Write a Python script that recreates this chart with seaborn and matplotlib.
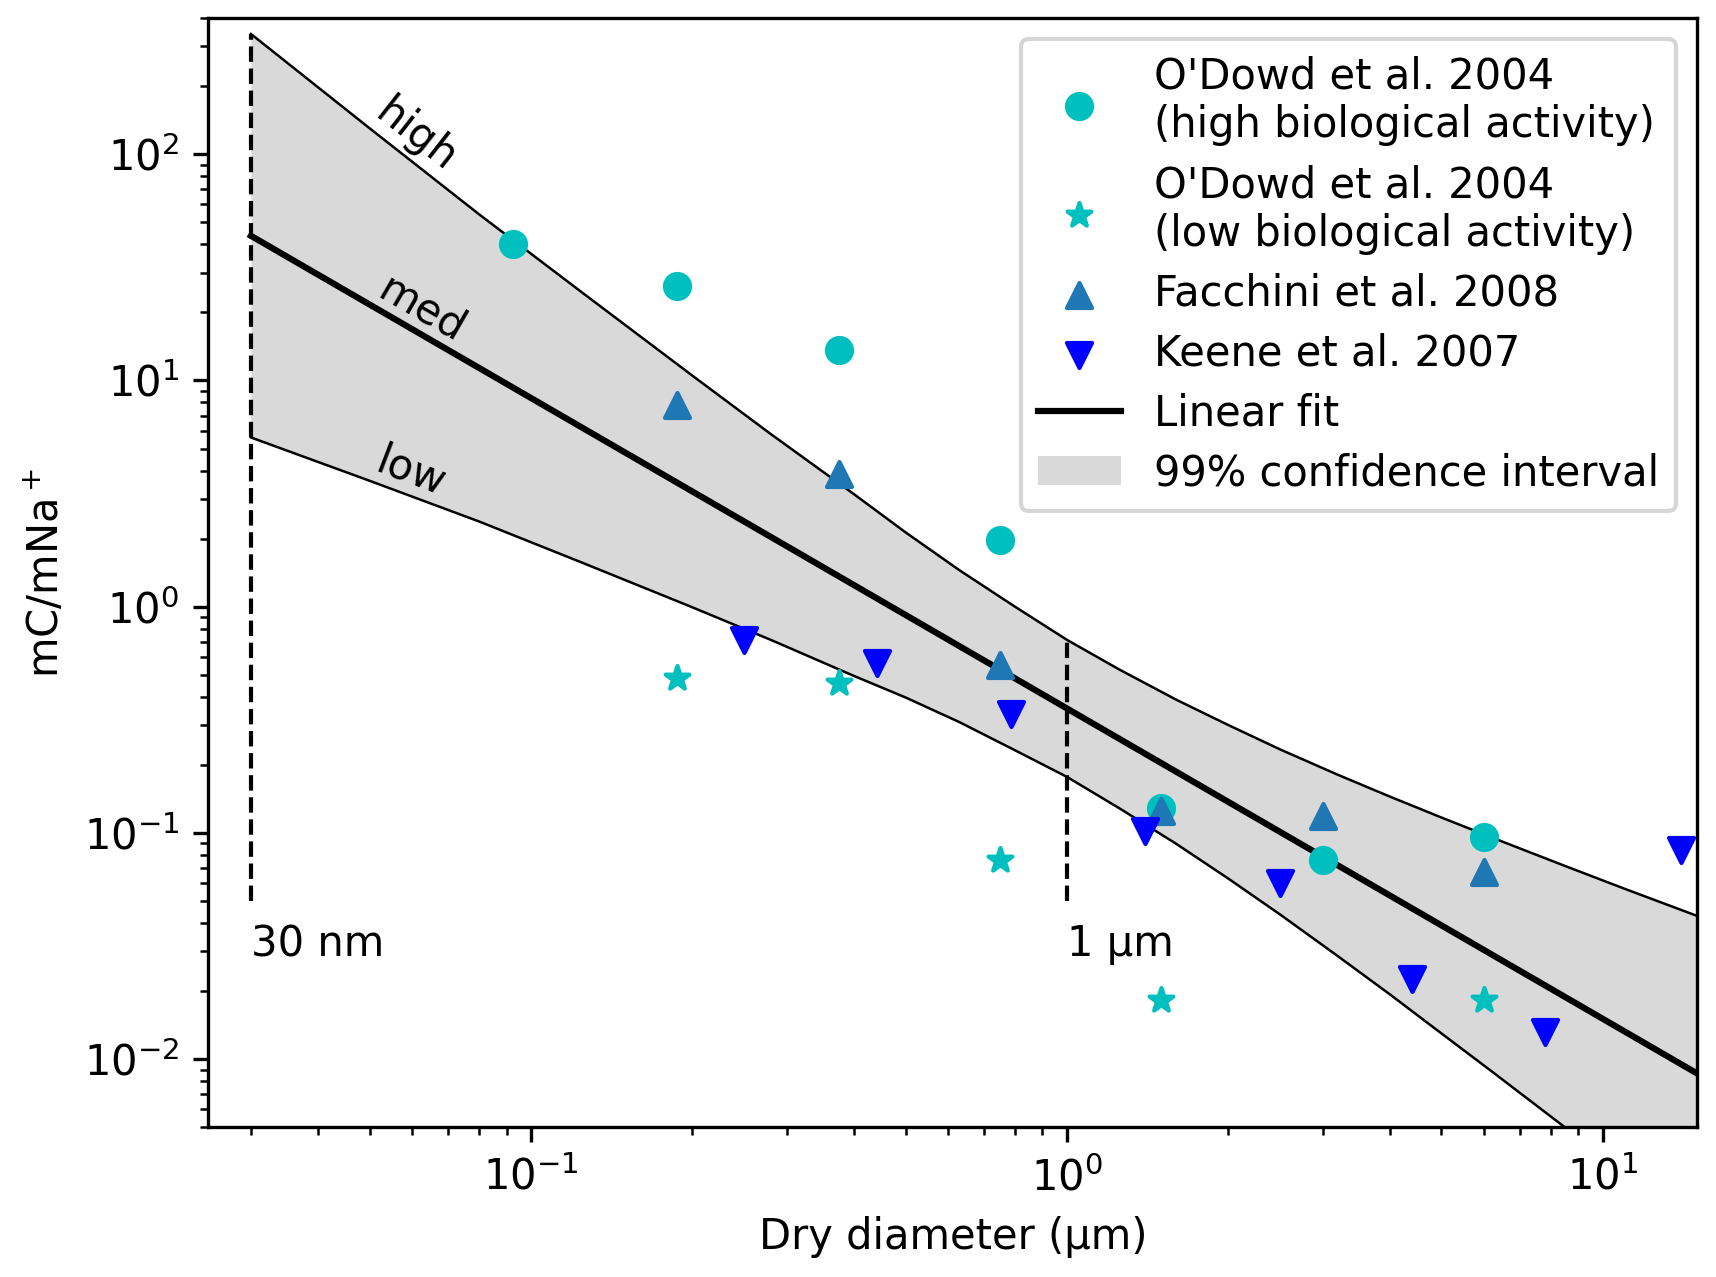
import matplotlib
matplotlib.use("Agg")
import matplotlib.pyplot as plt
import seaborn as sns

# Measurements: dry diameter (um) vs organic carbon / sodium mass ratio
odowd_hi_d = [0.0926, 0.1875, 0.375, 0.75, 1.5, 3.0, 6.0]
odowd_hi_r = [40.0, 26.2, 13.6, 1.97, 0.129, 0.0762, 0.0958]

odowd_lo_d = [0.1875, 0.375, 0.75, 1.5, 6.0]
odowd_lo_r = [0.485, 0.462, 0.0759, 0.0182, 0.0182]

facchini_d = [0.1875, 0.375, 0.75, 1.5, 3.0, 6.0]
facchini_r = [7.76, 3.86, 0.55, 0.125, 0.119, 0.067]

keene_d = [0.25, 0.442, 0.785, 1.40, 2.50, 4.41, 7.80, 14.0]
keene_r = [0.713, 0.564, 0.334, 0.102, 0.0601, 0.0226, 0.0132, 0.0844]

# Linear fit (log-log) and its 99% confidence band
fit_d = [0.03, 15.0]
fit_r = [43.6, 0.00865]

band_d = [0.03, 0.05, 0.08, 0.125, 0.2, 0.28, 0.4, 0.5, 0.63, 0.8, 1.0,
          1.25, 1.6, 2.0, 2.5, 3.2, 4.0, 5.0, 6.3, 8.5, 11.0, 15.0]
band_hi = [340, 130, 54.2, 24.3, 10.5, 5.80, 3.15, 2.13, 1.45, 1.00, 0.714,
           0.529, 0.388, 0.300, 0.234, 0.181, 0.145, 0.117, 0.0942, 0.0715, 0.0566, 0.0430]
band_lo = [5.60, 3.60, 2.38, 1.56, 0.994, 0.714, 0.495, 0.397, 0.309, 0.232, 0.177,
           0.129, 0.0895, 0.0629, 0.0436, 0.0286, 0.0194, 0.0130, 0.0086, 0.0050, 0.0031, 0.0017]

# size markers
marker_d = [0.03, 1.0]
marker_lbl = ["30 nm", "1 µm"]
marker_top = [band_hi[0], band_hi[10]]

fig = plt.figure(figsize=(5.72, 4.2567), dpi=300)
ax = fig.add_axes([0.1215, 0.1172, 0.8675, 0.8687])
ax.set_xscale("log")
ax.set_yscale("log")

# confidence band
ax.fill_between(band_d, band_lo, band_hi, color="0.85", lw=0, label="99% confidence interval")
sns.lineplot(x=band_d, y=band_hi, color="k", lw=0.6, ax=ax)
sns.lineplot(x=band_d, y=band_lo, color="k", lw=0.6, ax=ax)
sns.lineplot(x=fit_d, y=fit_r, color="k", lw=1.5, ax=ax, label="Linear fit")

# vertical size markers
ax.vlines(marker_d, 0.05, marker_top, colors="k", linestyles="--", lw=1)
for d, t in zip(marker_d, marker_lbl):
    ax.text(d, 0.0285, t, fontsize=10, ha="left", va="baseline")

# data
sns.scatterplot(x=odowd_hi_d, y=odowd_hi_r, marker="o", color="c", edgecolor="c",
                s=36, linewidth=1, ax=ax, zorder=3,
                label="O'Dowd et al. 2004\n(high biological activity)")
sns.scatterplot(x=odowd_lo_d, y=odowd_lo_r, marker="*", color="c", edgecolor="c",
                s=36, linewidth=1, ax=ax, zorder=3,
                label="O'Dowd et al. 2004\n(low biological activity)")
sns.scatterplot(x=facchini_d, y=facchini_r, marker="^", color="#1f77b4", edgecolor="#1f77b4",
                s=36, linewidth=1, ax=ax, zorder=3, label="Facchini et al. 2008")
sns.scatterplot(x=keene_d, y=keene_r, marker="v", color="b", edgecolor="b",
                s=36, linewidth=1, ax=ax, zorder=3, label="Keene et al. 2007")

# band labels
ax.text(0.0609, 121.5, "high", rotation=-38, ha="center", va="center", rotation_mode="anchor", fontsize=10)
ax.text(0.0624, 20.6, "med", rotation=-30, ha="center", va="center", rotation_mode="anchor", fontsize=10)
ax.text(0.0597, 3.92, "low", rotation=-21, ha="center", va="center", rotation_mode="anchor", fontsize=10)

ax.set_xlim(0.025, 15)
ax.set_ylim(0.005, 400)
ax.set_xlabel("Dry diameter (µm)")
ax.set_ylabel("mC/mNa$^+$")

order = ["O'Dowd et al. 2004\n(high biological activity)",
         "O'Dowd et al. 2004\n(low biological activity)",
         "Facchini et al. 2008", "Keene et al. 2007",
         "Linear fit", "99% confidence interval"]
handles, labels = ax.get_legend_handles_labels()
lookup = dict(zip(labels, handles))
ax.legend([lookup[k] for k in order], order, loc="upper right", labelspacing=0.43)

fig.savefig("out.png", dpi=300)
